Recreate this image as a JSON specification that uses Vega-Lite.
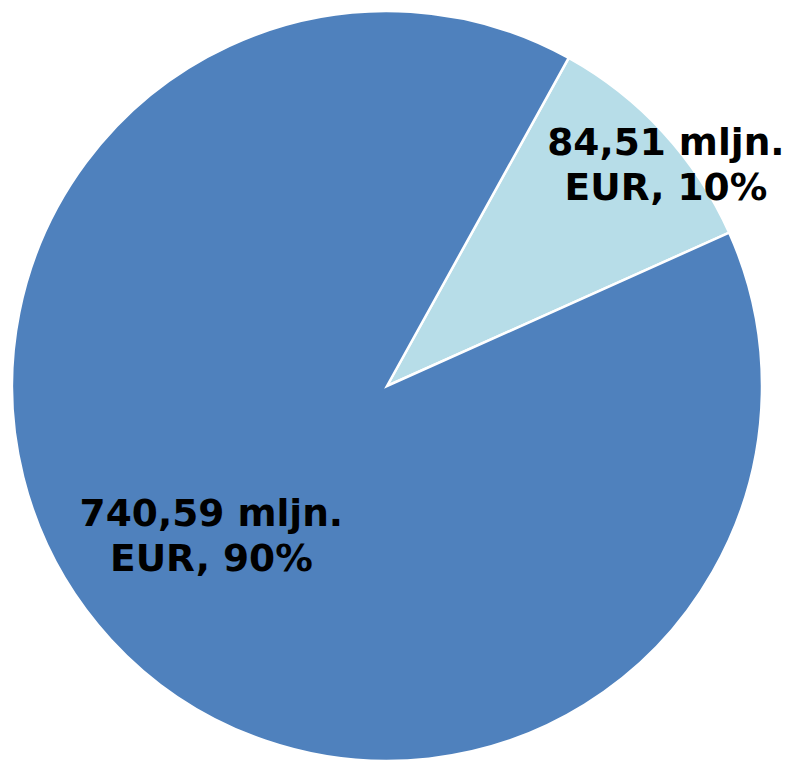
{
  "$schema": "https://vega.github.io/schema/vega-lite/v6.json",
  "width": 774,
  "height": 750,
  "autosize": {"type": "none"},
  "padding": {"left": 0, "top": 11, "right": 18, "bottom": 0},
  "background": "white",
  "config": {"view": {"stroke": null}},
  "data": {
    "values": [
      {"category": "Other", "value": 84.51, "rank": 1, "label": "84,51 mljn.\nEUR, 10%"},
      {"category": "Main", "value": 740.59, "rank": 2, "label": "740,59 mljn.\nEUR, 90%"}
    ]
  },
  "encoding": {
    "theta": {"field": "value", "type": "quantitative", "stack": true, "scale": {"range": [0.506, 6.789]}},
    "order": {"field": "rank", "type": "quantitative"}
  },
  "layer": [
    {
      "mark": {"type": "arc", "stroke": "white", "strokeWidth": 2.5, "outerRadius": 375},
      "encoding": {
        "color": {"field": "category", "type": "nominal", "scale": {"domain": ["Other", "Main"], "range": ["#B7DDE8", "#4F81BD"]}, "legend": null}
      }
    },
    {
      "mark": {"type": "text", "radius": 357, "dx": 16, "dy": 0, "font": "DejaVu Sans", "fontWeight": "bold", "fontSize": 37.5, "lineBreak": "\n", "lineHeight": 45, "align": "center", "baseline": "middle", "color": "black"},
      "encoding": {
        "text": {"field": "label"},
        "opacity": {"condition": {"test": "datum.category === 'Other'", "value": 1}, "value": 0}
      }
    },
    {
      "mark": {"type": "text", "radius": 229, "dx": -7, "dy": -26, "font": "DejaVu Sans", "fontWeight": "bold", "fontSize": 37.5, "lineBreak": "\n", "lineHeight": 45, "align": "center", "baseline": "middle", "color": "black"},
      "encoding": {
        "text": {"field": "label"},
        "opacity": {"condition": {"test": "datum.category === 'Main'", "value": 1}, "value": 0}
      }
    }
  ]
}
